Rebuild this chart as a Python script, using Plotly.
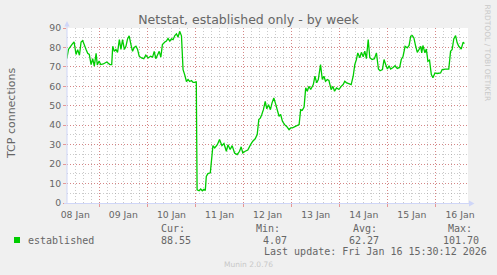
import plotly.graph_objects as go
import pandas as pd

# ---------------- data ----------------
hours = [7.8, 8.6, 10.3, 11.4, 12.4, 13.2, 14.1, 14.9, 15.7, 16.6,
         17.4, 18.2, 19.0, 19.9, 20.7, 21.5, 22.4, 23.0, 23.9, 24.7,
         26.0, 27.7, 29.3, 30.2, 30.7, 31.5, 32.3, 33.1, 34.0, 34.8,
         35.6, 36.5, 37.3, 38.1, 38.9, 39.8, 40.6, 41.4, 42.3, 43.1,
         43.9, 45.1, 46.2, 47.2, 48.4, 49.6, 50.6, 51.4, 52.2, 53.0,
         53.9, 54.7, 55.5, 56.7, 57.5, 58.3, 59.2, 60.0, 60.8, 61.7,
         62.5, 63.3, 64.1, 65.0, 65.8, 66.6, 67.5, 68.3, 69.1, 70.0,
         70.8, 71.6, 72.4,
         72.8, 73.8, 74.6, 75.4, 76.2, 76.9, 77.4, 78.2, 79.4, 80.7,
         81.6, 82.9, 84.0, 85.2, 86.2, 87.4, 88.2, 89.3, 90.3, 91.5,
         92.8, 94.0, 94.8, 95.6, 96.8, 98.1, 99.5, 100.6, 101.8, 102.8,
         103.6, 104.4, 105.1, 105.9, 106.8, 107.6, 108.4, 109.4, 110.2, 111.1,
         112.1, 112.9, 113.7, 114.5, 115.4, 116.5, 117.5, 118.7, 119.5, 120.4,
         121.5, 122.8, 123.7, 124.5, 125.3, 126.2, 127.0, 127.8, 128.6, 129.5,
         130.8, 131.6, 132.5, 133.3, 134.4, 135.3, 136.1, 136.9, 137.8, 138.6,
         139.7, 140.6, 141.4, 142.4, 143.6, 144.7, 145.7, 146.5, 147.4, 148.5,
         149.7, 150.7, 151.5, 152.3, 153.0, 154.0, 154.8, 155.7, 156.5, 157.3,
         158.2, 159.0, 160.1, 161.3, 162.3,
         163.3, 164.1, 165.3, 166.1, 166.9, 167.8, 168.6, 169.4, 170.6, 171.6,
         172.7, 173.9, 174.7, 175.6, 176.6, 177.7, 178.6, 179.4, 180.2, 181.0,
         181.9, 182.7, 183.5, 184.4, 184.9, 185.5, 186.5, 187.2, 188.0, 188.8,
         189.7, 190.5, 191.5, 192.6, 194.3, 195.1, 196.8, 198.4, 199.3, 200.1,
         200.9, 201.8, 202.6, 203.4, 204.6, 205.6, 206.2]

established = [74.2, 79, 81.5, 82.9, 76.4, 78.9, 76, 82.8, 83.5, 81.5,
               78.9, 77, 76.4, 71.2, 74.2, 70.4, 77, 71, 73, 71.2,
               71.5, 72.5, 71.2, 71.2, 80.6, 78, 79, 77.4, 84, 79,
               84, 79, 80.6, 84.4, 86, 81.5, 78, 80, 80.6, 79,
               75.5, 74.6, 74.2, 76, 74.6, 75.5, 75, 78, 74.2, 76,
               78, 75, 81.5, 82.8, 83.3, 84.6, 83.3, 84.4, 84, 86.1,
               87, 85.3, 88.3, 86, 68.6, 66, 62.5, 63.5, 62.5, 63,
               62, 62, 62.5,
               6.8, 6.3, 7.2, 6.3, 7.0, 6.5, 13.7, 15.1, 15.5, 29.5,
               28.3, 30, 32.6, 29.5, 30.6, 26.6, 30, 27.5, 29.5, 25.7,
               24.9, 26.6, 28.9, 25.7, 26.6, 27.2, 30, 31.8, 33, 35.2,
               42.9, 43.8, 45.5, 48, 52.3, 48.4, 50.6, 48, 51.5, 54,
               50.6, 47.2, 44.6, 45.5, 42, 40.3, 39.4, 37.7, 38.6, 38.6,
               39.2, 39.8, 40.3, 48, 47.7, 49.4, 59.2, 57.5, 60, 58.4,
               60.9, 65.2, 61.8, 63.5, 71.2, 63.5, 65.2, 62.6, 63.5, 63,
               58.3, 60, 57.5, 59.2, 58.4, 60, 60.9, 62.6, 61.8, 61.4,
               60.9, 65.2, 71.2, 73.8, 77.2, 74.7, 77.5, 75.2, 78.1, 74.2,
               84.1, 74.7, 73.8, 74.2, 77.2,
               68.9, 68, 68.6, 73.8, 71.2, 68.9, 70.6, 68.9, 69.7, 70.6,
               69.2, 69.7, 73.8, 75.5, 80.6, 79.8, 81, 85.8, 86.1, 84.9,
               80.6, 77.5, 78.9, 80.6, 77.2, 81, 77.2, 79.2, 72.9, 73.5,
               66, 64.4, 66.9, 66.6, 66.9, 68.6, 68.9, 68.9, 78, 78.9,
               84.4, 86.1, 82.4, 80.6, 79.2, 82.7, 82]

day_labels = ["08 Jan", "09 Jan", "10 Jan", "11 Jan", "12 Jan",
              "13 Jan", "14 Jan", "15 Jan", "16 Jan"]
y_ticks = [0, 10, 20, 30, 40, 50, 60, 70, 80, 90]
stat_names = ["Cur:", "Min:", "Avg:", "Max:"]
stat_values = ["88.55", "4.07", "62.27", "101.70"]

base = pd.Timestamp("2026-01-08 00:00:00")
x_time = base + pd.to_timedelta(hours, unit="h")
x_start = base + pd.to_timedelta(7.88, unit="h")
x_end = base + pd.to_timedelta(208.0, unit="h")
midnights = [base + pd.Timedelta(days=d) for d in range(1, 9)]
noons = [base + pd.Timedelta(days=d, hours=12) for d in range(len(day_labels))]

# ---------------- styling ----------------
W, H = 497, 275
L, R, T, B = 67, 468, 28, 203
BG = "#F0F0F0"
FONT_C = "#666666"
MGRID = "rgba(222,79,79,0.55)"
GRID = "rgba(150,150,150,0.5)"
DASH = "1px,2px"
AXIS_C = "#CFD6F8"
LINE_C = "#00CC00"
SANS = "DejaVu Sans"
MONO = "DejaVu Sans Mono"


def px(x):
    return (x - L) / (R - L)


def py(y):
    return (B - y) / (B - T)


fig = go.Figure()
fig.add_trace(go.Scatter(x=x_time, y=established, mode="lines",
                         line=dict(color=LINE_C, width=1.3),
                         showlegend=False, hoverinfo="skip"))
fig.add_trace(go.Scatter(x=[], y=[], xaxis="x2", showlegend=False,
                         hoverinfo="skip"))

fig.update_layout(
    width=W, height=H,
    margin=dict(l=L, r=W - R, t=T, b=H - B, pad=0),
    paper_bgcolor=BG, plot_bgcolor="#FFFFFF",
    showlegend=False,
    title=dict(text="Netstat, established only - by week",
               x=0.5, xref="container", xanchor="center",
               y=1 - 19.5 / H, yref="container", yanchor="middle",
               font=dict(family=SANS, size=12.5, color=FONT_C)),
    xaxis=dict(type="date", range=[x_start, x_end],
               tickmode="array", tickvals=midnights, showticklabels=False,
               showgrid=True, gridcolor=MGRID, griddash=DASH, gridwidth=1,
               ticks="outside", ticklen=3, tickcolor=MGRID, tickwidth=1,
               minor=dict(dtick=4 * 3600 * 1000, tick0=base, showgrid=True,
                          gridcolor=GRID, griddash=DASH, gridwidth=1,
                          ticks=""),
               showline=False, zeroline=False, fixedrange=True),
    xaxis2=dict(type="date", range=[x_start, x_end], overlaying="x",
                anchor="y", side="bottom",
                tickmode="array", tickvals=noons, ticktext=day_labels,
                tickfont=dict(family=SANS, size=9.3, color=FONT_C),
                showgrid=False, ticks="outside", ticklen=3,
                tickcolor="rgba(0,0,0,0)",
                showline=False, zeroline=False, fixedrange=True),
    yaxis=dict(range=[0, 90], tickmode="array", tickvals=y_ticks,
               tickfont=dict(family=SANS, size=9.3, color=FONT_C),
               showgrid=True, gridcolor=MGRID, griddash=DASH, gridwidth=1,
               ticks="outside", ticklen=3, tickcolor=MGRID, tickwidth=1,
               minor=dict(dtick=5, tick0=0, showgrid=True, gridcolor=GRID,
                          griddash=DASH, gridwidth=1, ticks=""),
               showline=False, zeroline=False, fixedrange=True),
)

shapes = [
    # y axis line + arrow
    dict(type="line", xref="paper", yref="paper", x0=px(67), x1=px(67),
         y0=py(203.5), y1=py(23), line=dict(color=AXIS_C, width=1),
         layer="above"),
    dict(type="path", xref="paper", yref="paper",
         path="M {} {} L {} {} L {} {} Z".format(px(64.3), py(26.5), px(69.7), py(26.5),
                                                px(67), py(21)),
         fillcolor=AXIS_C, line=dict(width=0), layer="above"),
    # x axis line + arrow
    dict(type="line", xref="paper", yref="paper", x0=px(64), x1=px(471),
         y0=py(203.5), y1=py(203.5), line=dict(color=AXIS_C, width=1),
         layer="above"),
    dict(type="path", xref="paper", yref="paper",
         path="M {} {} L {} {} L {} {} Z".format(px(469), py(200.5), px(469), py(206.5),
                                                px(474.5), py(203.5)),
         fillcolor=AXIS_C, line=dict(width=0), layer="above"),
    # legend swatch
    dict(type="rect", xref="paper", yref="paper", x0=px(14), x1=px(20),
         y0=py(243), y1=py(237), fillcolor=LINE_C, line=dict(width=0)),
]
fig.update_layout(shapes=shapes)


def ann(text, x, y, family=MONO, size=10, color=FONT_C, xanchor="left",
        angle=0):
    fig.add_annotation(text=text, x=px(x), y=py(y), xref="paper", yref="paper",
                       xanchor=xanchor, yanchor="middle", showarrow=False,
                       textangle=angle, font=dict(family=family, size=size,
                                                  color=color))


ann("TCP connections", 11, 114, family=SANS, size=11, xanchor="center", angle=-90)
ann("RRDTOOL / TOBI OETIKER", 487.5, 53, family=SANS, size=7.5,
    color="#C8C8C8", xanchor="center", angle=90)
ann("established", 25.5, 240)
name_x = [158.5, 254, 350.5, 446]
val_x = [158.5, 260.5, 346.5, 440.5]
for nm, vl, nx, vx in zip(stat_names, stat_values, name_x, val_x):
    ann(nm, nx, 228.5)
    ann(vl, vx, 240)
ann("Last update: Fri Jan 16 15:30:12 2026", 261.5, 251)
ann("Munin 2.0.76", 248, 264.5, family=SANS, size=7.5, color="#C8C8C8",
    xanchor="center")

fig.write_html("out.html")
